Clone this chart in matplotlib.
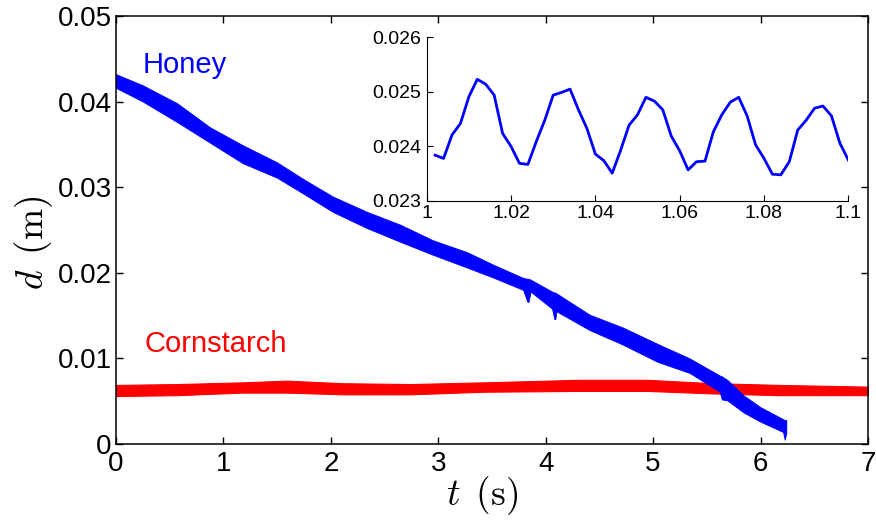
import matplotlib
matplotlib.use("Agg")
import matplotlib.pyplot as plt

plt.rcParams['font.family'] = ['Liberation Sans', 'DejaVu Sans']
plt.rcParams['mathtext.fontset'] = 'cm'

# honey: envelope of the oscillating trace (t, lower, upper)
honey_t = [0.0, 0.25, 0.57, 0.875, 1.18, 1.50, 1.75, 2.02, 2.34, 2.65, 2.95, 3.27,
           3.52, 3.79, 3.83, 3.84, 3.86, 4.06, 4.08, 4.09, 4.10, 4.41, 4.72, 5.04,
           5.34, 5.62, 5.64, 5.69, 5.84, 6.00, 6.21, 6.225, 6.24]
honey_lo = [0.0416, 0.0400, 0.0376, 0.0352, 0.0328, 0.0311, 0.0292, 0.0271, 0.0252, 0.0236, 0.0221, 0.0206,
            0.0194, 0.0180, 0.0166, 0.0166, 0.0178, 0.0158, 0.0146, 0.0146, 0.0155, 0.0133, 0.0116, 0.0096,
            0.0083, 0.0061, 0.0052, 0.0051, 0.0037, 0.0026, 0.0014, 0.0005, 0.0013]
honey_hi = [0.0432, 0.0419, 0.0398, 0.0370, 0.0349, 0.0329, 0.0309, 0.0289, 0.0271, 0.0256, 0.0238, 0.0224,
            0.0209, 0.0194, 0.0193, 0.0193, 0.0192, 0.0178, 0.0177, 0.0177, 0.0176, 0.0151, 0.0136, 0.0117,
            0.0100, 0.0080, 0.0079, 0.0075, 0.0057, 0.0043, 0.0029, 0.0028, 0.0028]

# cornstarch envelope
corn_t = [0.0, 0.57, 1.18, 1.59, 2.11, 2.74, 3.42, 4.32, 4.94, 5.56, 6.18, 7.0]
corn_lo = [0.0056, 0.0057, 0.0060, 0.0060, 0.0058, 0.0058, 0.0061, 0.0062, 0.0062, 0.0059, 0.0057, 0.0057]
corn_hi = [0.0069, 0.0070, 0.0072, 0.0074, 0.0071, 0.0070, 0.0072, 0.0075, 0.0075, 0.0071, 0.0069, 0.0067]

# inset: honey trace between t = 1.0 and 1.1 s
inset_t = [1.002 + 0.002 * i for i in range(50)]
inset_d = [0.02384, 0.02378, 0.02421, 0.02442, 0.02491, 0.02523, 0.02514, 0.02494, 0.02424, 0.02400,
           0.02369, 0.02367, 0.02409, 0.02448, 0.02494, 0.02499, 0.02505, 0.02467, 0.02433, 0.02386,
           0.02374, 0.02351, 0.02393, 0.02439, 0.02458, 0.02490, 0.02483, 0.02467, 0.02419, 0.02392,
           0.02357, 0.02372, 0.02373, 0.02427, 0.02458, 0.02481, 0.02490, 0.02456, 0.02403, 0.02378,
           0.02349, 0.02348, 0.02372, 0.02430, 0.02448, 0.02470, 0.02474, 0.02456, 0.02406, 0.02375]

fig = plt.figure(figsize=(8.76, 5.2), dpi=100)
ax = fig.add_axes([0.1324, 0.1462, 0.8584, 0.8231])

ax.fill_between(corn_t, corn_lo, corn_hi, color='#ff0000', lw=0.8)
ax.fill_between(honey_t, honey_lo, honey_hi, color='#0000ff', lw=0.6)

ax.text(0.25, 0.0433, 'Honey', color='#0000ff', fontsize=21)
ax.text(0.27, 0.0107, 'Cornstarch', color='#ff0000', fontsize=21)

ax.set_xlim(0, 7)
ax.set_ylim(0, 0.05)
ax.set_xticks(range(8))
ax.set_yticks([0, 0.01, 0.02, 0.03, 0.04, 0.05])
ax.set_yticklabels(['0', '0.01', '0.02', '0.03', '0.04', '0.05'])
ax.tick_params(direction='in', top=True, right=True, length=5, width=1,
               labelsize=20)
ax.tick_params(axis='x', pad=5)
ax.tick_params(axis='y', pad=3)
for s in ax.spines.values():
    s.set_linewidth(1.1)
ax.set_xlabel(r'$t\enspace(\mathrm{s})$', fontsize=27, labelpad=-2)
ax.set_ylabel(r'$d\enspace(\mathrm{m})$', fontsize=27, labelpad=2)
ax.xaxis.label.set_x(0.487)
ax.yaxis.label.set_y(0.47)

ins = fig.add_axes([0.4871, 0.6135, 0.4813, 0.3148])
ins.plot(inset_t, inset_d, color='#0000ff', lw=2.0)
ins.set_xlim(1, 1.1)
ins.set_ylim(0.023, 0.026)
ins.set_xticks([1, 1.02, 1.04, 1.06, 1.08, 1.1])
ins.set_xticklabels(['1', '1.02', '1.04', '1.06', '1.08', '1.1'])
ins.set_yticks([0.023, 0.024, 0.025, 0.026])
ins.set_yticklabels(['0.023', '0.024', '0.025', '0.026'])
ins.spines['top'].set_visible(False)
ins.spines['right'].set_visible(False)
for s in ['left', 'bottom']:
    ins.spines[s].set_linewidth(0.8)
ins.tick_params(direction='in', length=4, width=0.8, labelsize=14)
ins.tick_params(axis='x', pad=3)
ins.tick_params(axis='y', pad=4)

fig.savefig('out.png', dpi=100)
